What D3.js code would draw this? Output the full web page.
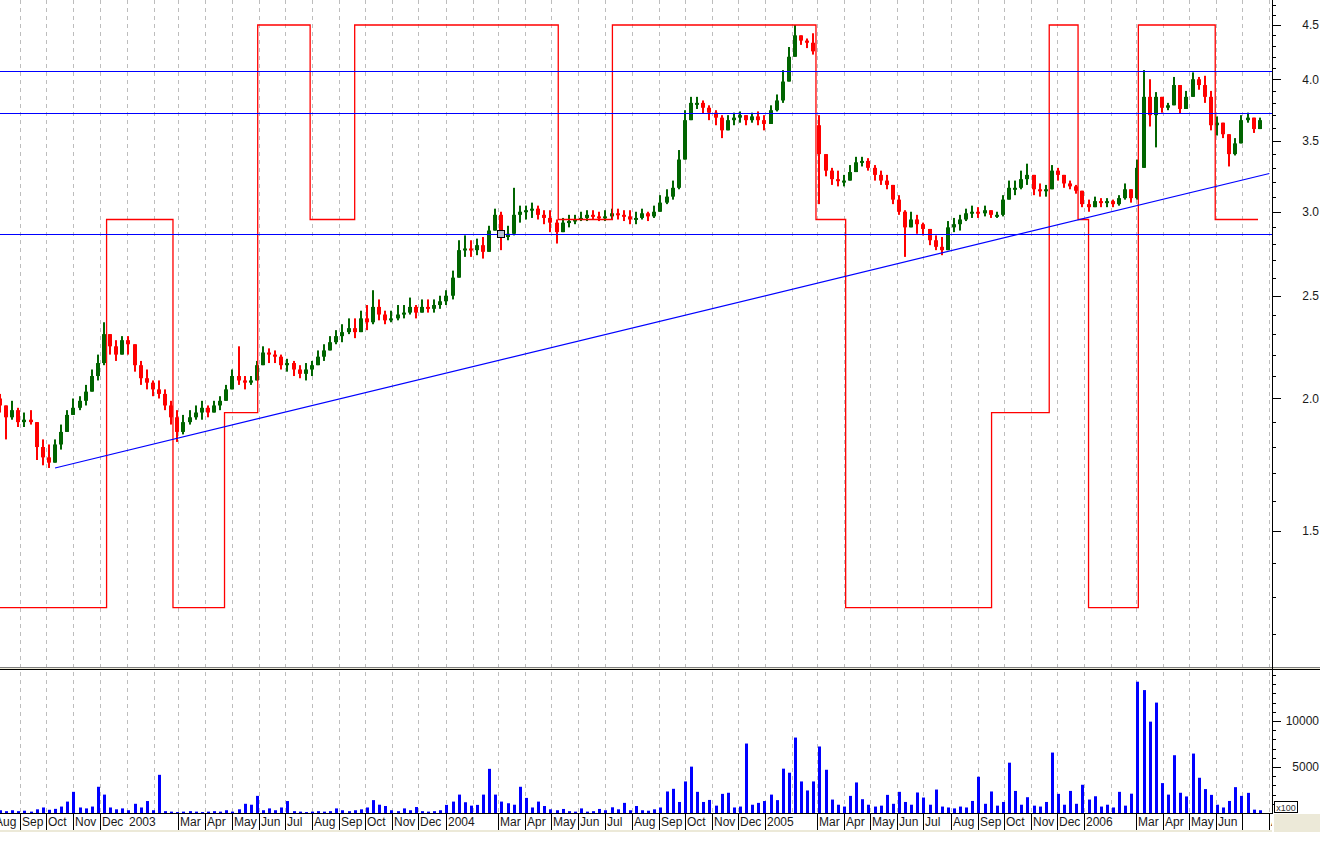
<!DOCTYPE html>
<html><head><meta charset="utf-8">
<script src="https://cdn.jsdelivr.net/npm/d3@7"></script>
<style>
html,body{margin:0;padding:0;background:#fff;overflow:hidden;}
svg{display:block;}
text{font-family:Arial,"Liberation Sans",sans-serif;}
</style></head><body>
<svg id="chart" width="1320" height="850"></svg>
<script>
// ---------------- DATA ----------------
const startWeek = "2002-08-09"; // first weekly bar
const weekOpen = [2.00,1.97,1.92,1.95,1.90,1.91,1.90,1.80,1.76,1.74,
1.81,1.86,1.93,1.96,1.99,2.03,2.10,2.16,2.30,2.24,
2.20,2.27,2.25,2.15,2.09,2.07,2.04,2.02,1.97,1.92,
1.86,1.90,1.92,1.94,1.96,1.94,1.97,1.99,2.04,2.10,
2.08,2.07,2.08,2.15,2.21,2.20,2.19,2.15,2.16,2.13,
2.11,2.13,2.15,2.19,2.22,2.26,2.29,2.31,2.33,2.31,
2.38,2.36,2.44,2.40,2.37,2.38,2.40,2.41,2.44,2.41,
2.44,2.43,2.45,2.47,2.50,2.60,2.76,2.77,2.76,2.79,
2.75,2.88,2.98,2.84,2.86,2.98,3.00,3.01,3.02,2.98,
2.96,2.93,2.87,2.93,2.94,2.95,2.96,2.98,2.97,2.96,
2.97,2.99,2.98,2.97,2.95,2.96,2.99,2.97,3.00,3.06,
3.10,3.16,3.36,3.66,3.80,3.80,3.76,3.72,3.68,3.58,
3.66,3.68,3.70,3.66,3.69,3.66,3.63,3.74,3.82,3.98,
4.20,4.40,4.35,4.33,3.62,3.40,3.28,3.22,3.21,3.21,
3.27,3.34,3.35,3.30,3.25,3.21,3.18,3.08,3.00,2.90,
2.95,2.92,2.89,2.82,2.78,2.76,2.90,2.92,2.95,2.99,
3.00,2.99,3.01,2.98,2.98,3.08,3.16,3.16,3.22,3.25,
3.15,3.14,3.15,3.28,3.25,3.19,3.17,3.14,3.05,3.03,
3.07,3.06,3.07,3.05,3.09,3.15,3.09,3.30,3.85,3.70,
3.85,3.76,3.78,3.95,3.75,3.85,4.00,3.95,3.85,3.62,
3.64,3.55,3.40,3.48,3.66,3.68,3.59];
const weekHigh = [2.02,1.97,1.99,1.96,1.94,1.95,1.89,1.83,1.81,1.83,
1.89,1.95,2.00,2.01,2.06,2.13,2.20,2.36,2.29,2.27,
2.29,2.29,2.25,2.17,2.13,2.08,2.08,2.04,1.99,1.95,
1.93,1.95,1.97,1.99,1.97,1.99,2.01,2.06,2.13,2.24,
2.10,2.10,2.17,2.24,2.23,2.22,2.20,2.18,2.17,2.15,
2.16,2.17,2.22,2.25,2.29,2.32,2.35,2.38,2.38,2.42,
2.45,2.53,2.48,2.42,2.42,2.45,2.45,2.49,2.45,2.48,
2.48,2.48,2.50,2.53,2.64,2.82,2.85,2.82,2.83,2.84,
2.91,3.02,3.00,2.91,3.16,3.04,3.04,3.06,3.04,3.01,
3.01,2.95,2.96,2.98,2.98,3.00,3.01,3.01,3.00,3.01,
3.02,3.02,3.01,3.01,3.00,3.02,3.00,3.04,3.11,3.15,
3.21,3.43,3.74,3.85,3.85,3.82,3.78,3.74,3.70,3.70,
3.72,3.73,3.70,3.72,3.73,3.70,3.78,3.87,4.08,4.29,
4.50,4.40,4.37,4.42,3.70,3.36,3.30,3.28,3.25,3.32,
3.38,3.38,3.37,3.32,3.28,3.25,3.18,3.11,3.01,3.00,
2.98,2.93,2.89,2.85,2.84,2.94,2.96,2.98,3.02,3.04,
3.03,3.04,3.01,3.00,3.11,3.21,3.21,3.28,3.33,3.23,
3.19,3.18,3.32,3.30,3.25,3.21,3.18,3.13,3.08,3.10,
3.09,3.09,3.08,3.11,3.19,3.13,3.36,4.08,4.00,3.89,
3.82,3.80,4.02,3.89,3.90,4.06,4.02,4.03,3.90,3.69,
3.62,3.54,3.52,3.70,3.72,3.66,3.68];
const weekLow = [1.94,1.83,1.91,1.88,1.88,1.89,1.75,1.73,1.72,1.74,
1.79,1.86,1.94,1.95,1.97,2.04,2.08,2.15,2.20,2.17,
2.22,2.20,2.12,2.06,2.04,2.01,2.00,1.95,1.89,1.82,
1.85,1.89,1.91,1.91,1.92,1.94,1.95,1.99,2.04,2.06,
2.04,2.06,2.08,2.17,2.16,2.16,2.13,2.12,2.10,2.09,
2.08,2.10,2.15,2.17,2.22,2.25,2.26,2.30,2.28,2.35,
2.32,2.35,2.37,2.35,2.36,2.37,2.38,2.40,2.38,2.41,
2.41,2.41,2.43,2.45,2.48,2.62,2.72,2.72,2.73,2.71,
2.79,2.91,2.76,2.82,2.85,2.93,2.95,2.96,2.95,2.92,
2.87,2.80,2.87,2.90,2.92,2.94,2.94,2.95,2.94,2.94,
2.95,2.95,2.94,2.92,2.92,2.95,2.94,2.96,3.01,3.05,
3.08,3.15,3.43,3.71,3.75,3.71,3.66,3.62,3.52,3.60,
3.62,3.64,3.62,3.64,3.62,3.58,3.68,3.73,3.80,4.08,
4.31,4.31,4.28,4.22,3.05,3.24,3.18,3.17,3.17,3.21,
3.27,3.31,3.28,3.21,3.18,3.15,3.05,2.98,2.72,2.90,
2.86,2.85,2.79,2.76,2.73,2.82,2.87,2.88,2.94,2.96,
2.96,2.97,2.96,2.96,2.97,3.08,3.11,3.15,3.18,3.11,
3.10,3.10,3.20,3.21,3.16,3.15,3.12,3.03,3.00,3.03,
3.03,3.03,3.03,3.04,3.08,3.06,3.08,3.36,3.61,3.45,
3.72,3.74,3.82,3.71,3.78,3.87,3.91,3.80,3.58,3.54,
3.52,3.31,3.39,3.57,3.64,3.56,3.61];
const weekClose = [1.97,1.92,1.95,1.90,1.91,1.90,1.80,1.76,1.74,1.81,
1.86,1.93,1.96,1.99,2.03,2.10,2.16,2.30,2.24,2.20,
2.27,2.25,2.15,2.09,2.07,2.04,2.02,1.97,1.92,1.86,
1.90,1.92,1.94,1.96,1.94,1.97,1.99,2.04,2.10,2.08,
2.07,2.08,2.15,2.21,2.20,2.19,2.15,2.16,2.13,2.11,
2.13,2.15,2.19,2.22,2.26,2.29,2.31,2.33,2.31,2.38,
2.36,2.44,2.40,2.37,2.38,2.40,2.41,2.44,2.41,2.44,
2.43,2.45,2.47,2.50,2.60,2.76,2.77,2.76,2.79,2.75,
2.88,2.98,2.84,2.86,2.98,3.00,3.01,3.02,2.98,2.96,
2.93,2.87,2.93,2.94,2.95,2.96,2.98,2.97,2.96,2.97,
2.99,2.98,2.97,2.95,2.96,2.99,2.97,3.00,3.06,3.10,
3.16,3.36,3.66,3.80,3.80,3.76,3.72,3.68,3.58,3.66,
3.68,3.70,3.66,3.69,3.66,3.63,3.74,3.82,3.98,4.20,
4.40,4.35,4.33,4.25,3.40,3.28,3.22,3.21,3.21,3.27,
3.34,3.35,3.30,3.25,3.21,3.18,3.08,3.00,2.90,2.95,
2.92,2.89,2.82,2.78,2.76,2.90,2.92,2.95,2.99,3.00,
2.99,3.01,2.98,2.98,3.08,3.16,3.16,3.22,3.25,3.15,
3.14,3.15,3.28,3.25,3.19,3.17,3.14,3.05,3.03,3.07,
3.06,3.07,3.05,3.09,3.15,3.09,3.30,3.85,3.70,3.85,
3.76,3.78,3.95,3.75,3.85,4.00,3.95,3.85,3.62,3.64,
3.55,3.40,3.48,3.66,3.68,3.59,3.66];
const weekVolume = [300,200,300,200,250,150,400,600,350,450,
700,1240,2300,600,500,700,2850,2000,600,400,
500,300,1000,600,1300,300,4150,200,150,100,
150,200,150,100,150,200,150,300,150,400,
1000,900,1860,300,500,300,600,1300,200,150,
100,150,200,150,200,500,300,200,300,400,
600,1400,900,760,300,200,500,300,650,200,
150,200,300,880,1240,2000,1170,800,880,2000,
4800,2000,1240,1060,900,2850,1640,600,1240,760,
400,300,440,200,150,500,150,200,440,300,
620,400,1100,300,760,300,250,400,600,2340,
2630,1200,3430,5040,2300,1200,1420,800,2080,2200,
600,700,7550,900,1100,1300,2000,1400,4820,4380,
8200,3430,2450,3430,7230,4700,1460,900,700,1860,
3320,1500,900,700,800,1970,1000,2300,1200,900,
2230,1680,900,2550,700,600,500,700,600,1310,
3940,1000,2340,800,1200,5470,2400,900,1715,800,
700,1200,6570,2080,900,2400,1000,3070,1460,1820,
700,900,600,2300,800,2100,14270,13360,9930,12000,
3250,2000,6280,2200,1800,6460,3830,2600,1970,900,
600,1310,2810,1860,2190,365,300];

// red step indicator (drawn on price scale)
const stepDates = ["2002-08-09","2002-12-09","2003-02-23","2003-04-23","2003-05-31","2003-07-30","2003-09-19","2004-05-09","2004-07-10","2005-02-28","2005-04-03","2005-09-17","2005-11-22","2005-12-25","2006-01-06","2006-03-04","2006-05-31","2006-07-19"];
const stepValues = [1.27,2.95,1.27,1.94,4.5,2.95,4.5,2.95,4.5,2.95,1.27,1.94,4.5,2.95,1.27,4.5,2.95,2.95];

// horizontal levels and trend line
const levelValues = [4.07, 3.72, 2.86];
const trendDates = ["2002-10-11","2006-08-01"];
const trendValues = [1.72, 3.26];
const markerDate = "2004-03-04";
const markerValue = 2.86;

// axes
const priceTickLabels = ["1.5","2.0","2.5","3.0","3.5","4.0","4.5"];
const volumeTickLabels = ["5000","10000"];
const axisTickDates = ["2002-08-01","2002-09-01","2002-10-01","2002-11-01","2002-12-01","2003-01-01","2003-03-01","2003-04-01","2003-05-01","2003-06-01","2003-07-01","2003-08-01","2003-09-01","2003-10-01","2003-11-01","2003-12-01","2004-01-01","2004-03-01","2004-04-01","2004-05-01","2004-06-01","2004-07-01","2004-08-01","2004-09-01","2004-10-01","2004-11-01","2004-12-01","2005-01-01","2005-03-01","2005-04-01","2005-05-01","2005-06-01","2005-07-01","2005-08-01","2005-09-01","2005-10-01","2005-11-01","2005-12-01","2006-01-01","2006-03-01","2006-04-01","2006-05-01","2006-06-01","2006-07-01","2006-08-01"];
const axisTickLabels = ["Aug","Sep","Oct","Nov","Dec","2003","Mar","Apr","May","Jun","Jul","Aug","Sep","Oct","Nov","Dec","2004","Mar","Apr","May","Jun","Jul","Aug","Sep","Oct","Nov","Dec","2005","Mar","Apr","May","Jun","Jul","Aug","Sep","Oct","Nov","Dec","2006","Mar","Apr","May","Jun","","Aug"];
const axisNoSeparator = ["2003-01-01"];

// ---------------- LAYOUT ----------------
const parse = d3.timeParse("%Y-%m-%d");
const plotRight = 1272;
const priceBottom = 667;
const volTop = 670, volBottom = 813, bandBottom = 830;
const GREEN = "#006400", RED = "#ff0000", BLUE = "#0000ff";

const x = d3.scaleTime().domain([parse("2002-08-09"), parse("2006-08-04")]).range([0, plotRight]);
const yP = d3.scaleLog().domain([1.5, 4.5]).range([531, 25]);
const yV = d3.scaleLinear().domain([0, 10000]).range([volBottom, 721]);

const svg = d3.select("#chart");
const defs = svg.append("defs");
defs.append("clipPath").attr("id","cpPrice").append("rect").attr("x",0).attr("y",0).attr("width",plotRight).attr("height",priceBottom);
defs.append("clipPath").attr("id","cpVol").append("rect").attr("x",0).attr("y",volTop).attr("width",plotRight).attr("height",volBottom-volTop);
defs.append("clipPath").attr("id","cpBand").append("rect").attr("x",0).attr("y",volBottom).attr("width",plotRight).attr("height",bandBottom-volBottom);

svg.append("rect").attr("width",1320).attr("height",850).attr("fill","#fff");

// monthly dashed gridlines
const months = d3.timeMonth.range(parse("2002-08-01"), parse("2006-09-01")).filter(d => x(d) > 0 && x(d) < plotRight);
svg.append("g").selectAll("line").data(months).join("line")
  .attr("x1", d => Math.round(x(d)) + 0.5).attr("x2", d => Math.round(x(d)) + 0.5)
  .attr("y1", 0).attr("y2", volBottom)
  .attr("stroke", "#bdbdbd").attr("stroke-dasharray", "4,4").attr("shape-rendering","crispEdges");

// ---------------- PRICE PANEL ----------------
const weeks = weekClose.map((c, i) => ({
  date: d3.timeDay.offset(parse(startWeek), 7 * i),
  o: weekOpen[i], h: weekHigh[i], l: weekLow[i], c: c, v: weekVolume[i]
}));

const gPrice = svg.append("g").attr("clip-path","url(#cpPrice)");
const candles = gPrice.append("g").selectAll("g").data(weeks).join("g")
  .attr("fill", d => d.c >= d.o ? GREEN : RED);
candles.append("rect")
  .attr("x", d => Math.round(x(d.date)) - 1).attr("width", 2)
  .attr("y", d => yP(Math.max(d.h, d.o, d.c)))
  .attr("height", d => Math.max(1, yP(Math.min(d.l, d.o, d.c)) - yP(Math.max(d.h, d.o, d.c))));
candles.append("rect")
  .attr("x", d => Math.round(x(d.date)) - 2).attr("width", 4)
  .attr("y", d => yP(Math.max(d.o, d.c)))
  .attr("height", d => Math.max(2, Math.abs(yP(d.o) - yP(d.c))));

// red step indicator
const stepPts = stepDates.map((d, i) => [x(parse(d)), yP(stepValues[i])]);
gPrice.append("path")
  .attr("d", d3.line().curve(d3.curveStepAfter)(stepPts))
  .attr("fill","none").attr("stroke",RED).attr("stroke-width",1.3);

// horizontal level lines
gPrice.append("g").selectAll("line").data(levelValues).join("line")
  .attr("x1",0).attr("x2",plotRight)
  .attr("y1", d => Math.round(yP(d)) + 0.5).attr("y2", d => Math.round(yP(d)) + 0.5)
  .attr("stroke", BLUE).attr("stroke-width",1).attr("shape-rendering","crispEdges");

// trend line
gPrice.append("line")
  .attr("x1", x(parse(trendDates[0]))).attr("y1", yP(trendValues[0]))
  .attr("x2", x(parse(trendDates[1]))).attr("y2", yP(trendValues[1]))
  .attr("stroke", BLUE).attr("stroke-width",1.2);

// marker square
gPrice.append("rect")
  .attr("x", Math.round(x(parse(markerDate))) - 3.5).attr("y", Math.round(yP(markerValue)) - 3.5)
  .attr("width",7).attr("height",7)
  .attr("fill","#b9c0d4").attr("stroke","#000").attr("stroke-width",1);

// ---------------- VOLUME PANEL ----------------
const gVol = svg.append("g").attr("clip-path","url(#cpVol)");
gVol.selectAll("rect").data(weeks).join("rect")
  .attr("x", d => Math.round(x(d.date)) - 1).attr("width", 3)
  .attr("y", d => yV(d.v)).attr("height", d => volBottom - yV(d.v))
  .attr("fill", BLUE);

// panel separators
svg.append("rect").attr("x",0).attr("y",priceBottom).attr("width",1320).attr("height",3).attr("fill","#ece9d8");
svg.append("line").attr("x1",0).attr("x2",1320).attr("y1",priceBottom+0.5).attr("y2",priceBottom+0.5).attr("stroke","#808080");
svg.append("line").attr("x1",0).attr("x2",1320).attr("y1",volTop-0.5).attr("y2",volTop-0.5).attr("stroke","#000");

// ---------------- RIGHT AXES ----------------
const axisX = plotRight + 0.5;
svg.append("line").attr("x1",axisX).attr("x2",axisX).attr("y1",0).attr("y2",volBottom).attr("stroke","#000");

const priceTicks = d3.range(12, 48).map(d => d / 10);
svg.append("g").selectAll("line").data(priceTicks).join("line")
  .attr("x1", axisX).attr("x2", d => axisX + (priceTickLabels.includes(d.toFixed(1)) ? 8 : 3))
  .attr("y1", d => Math.round(yP(d)) + 0.5).attr("y2", d => Math.round(yP(d)) + 0.5)
  .attr("stroke","#000").attr("shape-rendering","crispEdges");
svg.append("g").selectAll("text").data(priceTickLabels).join("text")
  .attr("x", 1319).attr("y", d => yP(+d)).attr("dy","0.36em")
  .attr("text-anchor","end").attr("font-size",12).attr("fill","#1a1a1a")
  .text(d => d);

const volTicks = d3.range(1000, 16000, 1000);
svg.append("g").selectAll("line").data(volTicks).join("line")
  .attr("x1", axisX).attr("x2", d => axisX + (volumeTickLabels.includes(String(d)) ? 8 : 3))
  .attr("y1", d => Math.round(yV(d)) + 0.5).attr("y2", d => Math.round(yV(d)) + 0.5)
  .attr("stroke","#000").attr("shape-rendering","crispEdges");
svg.append("g").selectAll("text").data(volumeTickLabels).join("text")
  .attr("x", 1319).attr("y", d => yV(+d)).attr("dy","0.36em")
  .attr("text-anchor","end").attr("font-size",12).attr("fill","#1a1a1a")
  .text(d => d);

// x100 box
svg.append("rect").attr("x",1274.5).attr("y",801.5).attr("width",23).attr("height",11)
  .attr("fill","#fff").attr("stroke","#000");
svg.append("text").attr("x",1286).attr("y",810.5).attr("text-anchor","middle")
  .attr("font-size",9).attr("fill","#333").text("x100");

// ---------------- DATE BAND ----------------
svg.append("line").attr("x1",0).attr("x2",plotRight+1).attr("y1",volBottom+0.5).attr("y2",volBottom+0.5).attr("stroke","#000");
svg.append("rect").attr("x",0).attr("y",bandBottom).attr("width",plotRight).attr("height",2).attr("fill","#ece9d8");
svg.append("rect").attr("x",plotRight+2).attr("y",volBottom+1).attr("width",1320-plotRight-2).attr("height",bandBottom-volBottom+1).attr("fill","#ece9d8");

const band = svg.append("g").attr("clip-path","url(#cpBand)");
const ticks = axisTickDates.map((d, i) => ({date: parse(d), key: d, label: axisTickLabels[i]}));
band.selectAll("line").data(ticks.filter(t => !axisNoSeparator.includes(t.key))).join("line")
  .attr("x1", d => Math.round(x(d.date)) + 0.5).attr("x2", d => Math.round(x(d.date)) + 0.5)
  .attr("y1", volBottom).attr("y2", bandBottom)
  .attr("stroke","#000").attr("shape-rendering","crispEdges");
band.selectAll("text").data(ticks).join("text")
  .attr("x", d => Math.round(x(d.date)) + 2).attr("y", 826)
  .attr("font-size",12).attr("fill","#1a1a1a")
  .text(d => d.label);
</script>
</body></html>
